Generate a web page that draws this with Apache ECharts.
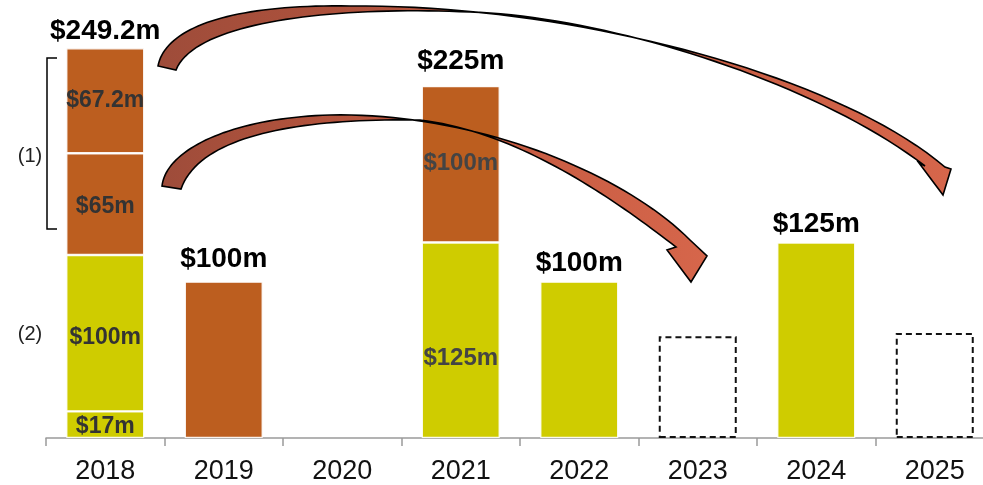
<!DOCTYPE html>
<html>
<head>
<meta charset="utf-8">
<script src="https://cdn.jsdelivr.net/npm/echarts@6/dist/echarts.min.js"></script>
<style>
  html, body { margin: 0; padding: 0; background: #fff; overflow: hidden; }
  /* the last category runs a little past the right edge of the page */
  #chart { width: 1000px; height: 485px; }
</style>
</head>
<body>
<div id="chart"></div>
<script>
// Funding by year ($m)
const years = ['2018', '2019', '2020', '2021', '2022', '2023', '2024', '2025'];
const baseYellow   = [17, null, null, 125, 100, null, 125, null];
const upperYellow  = [100, null, null, null, null, null, null, null];
const lowerOrange  = [65, 100, null, 100, null, null, null, null];
const upperOrange  = [67.2, null, null, null, null, null, null, null];
const plannedBox   = [null, null, null, null, null, 65, null, 67.2];
const totals       = [249.2, 100, null, 225, 100, null, 125, null];
const sideNotes    = ['(1)', '(2)'];

const FONT = '"Liberation Sans", Arial, Helvetica, sans-serif';
const ORANGE = '#BC5E1F';
const YELLOW = '#CFCC00';

const fmt = v => '$' + v + 'm';

// Inside label for a segment: shown only when the bar holds more than one segment
function segmentData(values, opts) {
  return values.map((v, i) => {
    if (v == null) return null;
    const multi = totals[i] != null && totals[i] !== v;
    const o = (opts && opts[i]) || {};
    return {
      value: v,
      label: {
        show: multi,
        position: 'inside',
        formatter: fmt(v),
        color: o.color || '#333',
        fontSize: o.size || 23,
        fontWeight: 'bold',
        fontFamily: FONT,
        offset: [0, o.dy || 0]
      }
    };
  });
}

const segStyle = color => ({ color: color, borderColor: 'rgba(255,255,255,0.9)', borderWidth: 1.2 });

// distance of the total label above each stack
const totalGap = [3, 8, 0, 11, 4, 0, 4, 0];

const option = {
  animation: false,
  grid: { left: 46, top: 0, width: 948, bottom: 47, containLabel: false },
  xAxis: {
    type: 'category',
    data: years,
    axisLine: { lineStyle: { color: '#9A9A9A', width: 1.5 } },
    axisTick: { show: true, length: 8, lineStyle: { color: '#9A9A9A', width: 1.5 } },
    axisLabel: { color: '#111', fontSize: 27, fontFamily: FONT, margin: 20 }
  },
  yAxis: { type: 'value', min: 0, max: 280, show: false, splitLine: { show: false } },
  series: [
    {
      name: 'baseYellow', type: 'bar', stack: 'total', barWidth: 78,
      itemStyle: segStyle(YELLOW),
      data: segmentData(baseYellow, { 0: { dy: 2 }, 3: { color: '#444', dy: 18, size: 24 } })
    },
    {
      name: 'upperYellow', type: 'bar', stack: 'total', barWidth: 78,
      itemStyle: segStyle(YELLOW),
      data: segmentData(upperYellow, { 0: { dy: 4 } })
    },
    {
      name: 'lowerOrange', type: 'bar', stack: 'total', barWidth: 78,
      itemStyle: segStyle(ORANGE),
      data: segmentData(lowerOrange, { 0: { dy: 3 }, 3: { color: '#444', dy: -1, size: 24 } })
    },
    {
      name: 'upperOrange', type: 'bar', stack: 'total', barWidth: 78,
      itemStyle: segStyle(ORANGE),
      data: segmentData(upperOrange, {})
    },
    {
      name: 'plannedBox', type: 'bar', stack: 'total', barWidth: 78,
      itemStyle: { color: 'rgba(0,0,0,0)', borderColor: '#111', borderWidth: 2, borderType: [6, 4] },
      data: plannedBox
    },
    {
      name: 'totalLabel', type: 'bar', stack: 'total', barWidth: 78,
      itemStyle: { color: 'rgba(0,0,0,0)', borderWidth: 0 },
      data: totals.map((t, i) => t == null ? null : {
        value: 0,
        label: {
          show: true, position: 'top', distance: totalGap[i],
          formatter: fmt(t), color: '#000', fontSize: 28, fontWeight: 'bold', fontFamily: FONT
        }
      })
    }
  ]
};

const chart = echarts.init(document.getElementById('chart'), null, { renderer: 'canvas' });
chart.setOption(option);

// ---- curved arrows and side annotations ----
function cubic(p0, p1, p2, p3, n) {
  const pts = [];
  for (let k = 0; k <= n; k++) {
    const t = k / n, u = 1 - t;
    const a = u * u * u, b = 3 * u * u * t, c = 3 * u * t * t, d = t * t * t;
    pts.push([a * p0[0] + b * p1[0] + c * p2[0] + d * p3[0],
              a * p0[1] + b * p1[1] + c * p2[1] + d * p3[1]]);
  }
  return pts;
}

function arrowPoints(outer, head, inner) {
  let pts = [];
  outer.forEach((seg, i) => {
    const s = cubic(seg[0], seg[1], seg[2], seg[3], 40);
    pts = pts.concat(i === 0 ? s : s.slice(1));
  });
  pts = pts.concat(head);
  inner.forEach(seg => {
    pts = pts.concat(cubic(seg[0], seg[1], seg[2], seg[3], 40).slice(1));
  });
  return pts;
}

const arrowFill = new echarts.graphic.LinearGradient(0, 0, 1, 0, [
  { offset: 0, color: '#9E4C3A' },
  { offset: 0.5, color: '#C0583F' },
  { offset: 1, color: '#D6664B' }
]);

// 2018 upper tranche -> 2025
const arrowLong = arrowPoints(
  [
    [[158, 66], [165, 28], [230, 4], [350, 6]],
    [[350, 6], [560, 4], [830, 70], [945, 167]]
  ],
  [[951, 169], [943, 195], [919, 163], [925, 166]],
  [
    [[925, 166], [810, 78], [600, 16], [470, 12]],
    [[470, 12], [330, 6], [195, 22], [176, 70]]
  ]
);

// 2018 lower tranche -> 2023
const arrowShort = arrowPoints(
  [
    [[162, 186], [166, 150], [230, 118], [330, 115]],
    [[330, 115], [470, 112], [620, 170], [690, 240]]
  ],
  [[707, 256], [691, 282], [667, 250], [676, 247]],
  [
    [[676, 247], [615, 200], [520, 132], [420, 120]],
    [[420, 120], [300, 118], [200, 135], [181, 189]]
  ]
);

chart.setOption({
  graphic: [
    {
      type: 'polygon', z: 100,
      shape: { points: arrowLong },
      style: { fill: arrowFill, stroke: '#000', lineWidth: 1.6, lineJoin: 'miter' }
    },
    {
      type: 'polygon', z: 100,
      shape: { points: arrowShort },
      style: { fill: arrowFill, stroke: '#000', lineWidth: 1.6, lineJoin: 'miter' }
    },
    {
      type: 'polyline', z: 100,
      shape: { points: [[57, 58], [47, 58], [47, 229], [57, 229]] },
      style: { stroke: '#000', lineWidth: 1.5, fill: null }
    },
    {
      type: 'text', z: 100, x: 30, y: 156,
      style: { text: sideNotes[0], fontSize: 20, fontFamily: FONT, fill: '#222', align: 'center', verticalAlign: 'middle' }
    },
    {
      type: 'text', z: 100, x: 30, y: 334,
      style: { text: sideNotes[1], fontSize: 20, fontFamily: FONT, fill: '#222', align: 'center', verticalAlign: 'middle' }
    }
  ]
});
</script>
</body>
</html>
